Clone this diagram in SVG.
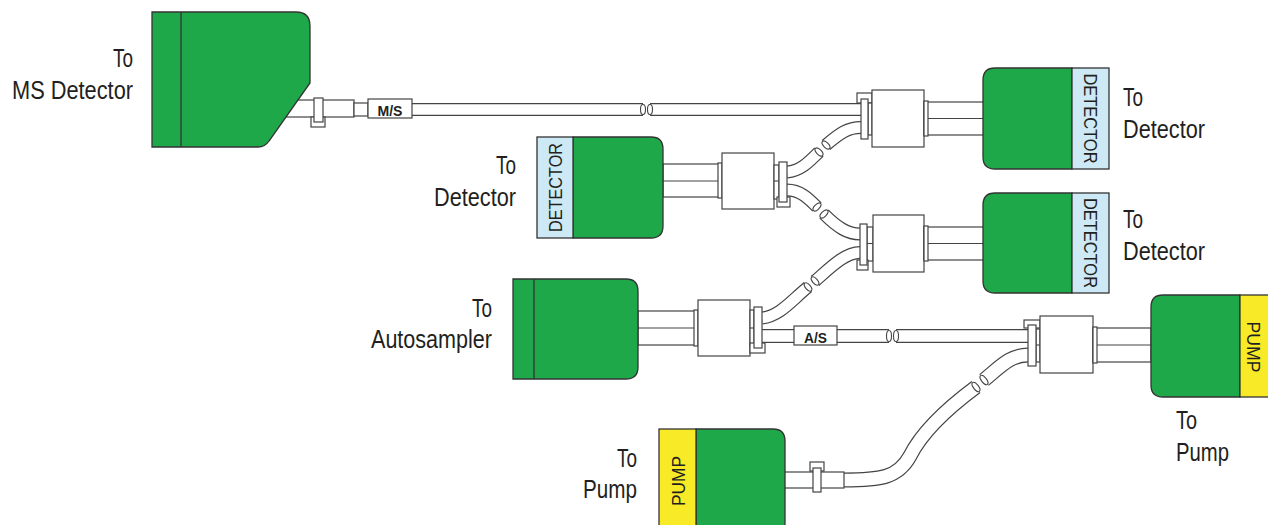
<svg xmlns="http://www.w3.org/2000/svg" width="1268" height="525" viewBox="0 0 1268 525">
<style>
.g{fill:#1fa84a;stroke:#333;stroke-width:1.3}
.b{fill:#cde9f5;stroke:#333;stroke-width:1.3}
.y{fill:#f8ea26;stroke:#333;stroke-width:1.3}
.f{fill:#fff;stroke:#444;stroke-width:1.2}
.to{fill:none;stroke:#444;stroke-width:13}
.ti{fill:none;stroke:#fff;stroke-width:10.6}
.to2{fill:none;stroke:#444;stroke-width:14}
.ti2{fill:none;stroke:#fff;stroke-width:11.6}
.to3{fill:none;stroke:#444;stroke-width:15}
.ti3{fill:none;stroke:#fff;stroke-width:12.6}
.ln{stroke:#444;stroke-width:1.1;fill:none}
.dl{stroke:#333;stroke-width:1.3;fill:none}
.e{fill:#fff;stroke:#444;stroke-width:1.1}
.lbl{font-family:"Liberation Sans",Arial,sans-serif;font-size:25.5px;fill:#231f20}
.tag{font-family:"Liberation Sans",Arial,sans-serif;font-size:18.5px;fill:#231f20}
.tb{font-family:"Liberation Sans",Arial,sans-serif;font-size:15.5px;font-weight:bold;fill:#231f20}
</style>
<defs>
<path id="pA1" d="M787,172 C800,171 808,163 819,152"/>
<path id="pA2" d="M826,145 C840,133 848,127.5 861,127.5"/>
<path id="pB1" d="M787,190 C800,190 808,198 817,207"/>
<path id="pB2" d="M824,214 C838,228 848,234 860,234"/>
<path id="pC1" d="M762,318 C780,316 792,300 808,287"/>
<path id="pC2" d="M815,281 C830,268 845,252.5 860,252.5"/>
<path id="pD1" d="M844,480 C880,480 898,478 910,456 C922,432 945,410 976,387"/>
<path id="pD2" d="M984,380 C1000,367 1010,355 1028,355"/>
<path id="pM1" d="M412,109.5 H643"/>
<path id="pM2" d="M650,109.5 H861"/>
<path id="pS0" d="M762,336 H794"/>
<path id="pS1" d="M837,336 H889"/>
<path id="pS2" d="M896,336 H1028"/>
</defs>
<g id="connectors">
  <!-- MS tubing -->
  <rect class="f" x="280" y="100" width="74" height="17"/>
  <rect class="f" x="311" y="117" width="14" height="10"/>
  <rect class="f" x="314" y="98" width="9" height="24"/>
  <rect class="f" x="354" y="103" width="14" height="13"/>
  <use href="#pM1" class="to"/><use href="#pM1" class="ti"/>
  <use href="#pM2" class="to"/><use href="#pM2" class="ti"/>
  <ellipse class="e" cx="643" cy="109.5" rx="2.5" ry="5"/>
  <ellipse class="e" cx="650" cy="109.5" rx="2.5" ry="5"/>
  <rect class="f" x="368" y="99" width="44" height="19"/>
  <text class="tb" x="390" y="115.5" text-anchor="middle" textLength="25" lengthAdjust="spacingAndGlyphs">M/S</text>

  <!-- curved tubes -->
  <use href="#pA1" class="to"/><use href="#pA1" class="ti"/>
  <use href="#pA2" class="to"/><use href="#pA2" class="ti"/>
  <ellipse class="e" cx="819" cy="152" rx="2.5" ry="5" transform="rotate(-45 819 152)"/>
  <ellipse class="e" cx="826" cy="145" rx="2.5" ry="5" transform="rotate(-45 826 145)"/>
  <use href="#pB1" class="to"/><use href="#pB1" class="ti"/>
  <use href="#pB2" class="to"/><use href="#pB2" class="ti"/>
  <ellipse class="e" cx="817" cy="207" rx="2.5" ry="5" transform="rotate(45 817 207)"/>
  <ellipse class="e" cx="824" cy="214" rx="2.5" ry="5" transform="rotate(45 824 214)"/>
  <use href="#pC1" class="to"/><use href="#pC1" class="ti"/>
  <use href="#pC2" class="to"/><use href="#pC2" class="ti"/>
  <ellipse class="e" cx="808" cy="287" rx="2.5" ry="5" transform="rotate(-40 808 287)"/>
  <ellipse class="e" cx="815" cy="281" rx="2.5" ry="5" transform="rotate(-40 815 281)"/>
  <use href="#pD1" class="to3"/><use href="#pD1" class="ti3"/>
  <use href="#pD2" class="to3"/><use href="#pD2" class="ti3"/>
  <ellipse class="e" cx="976" cy="387" rx="2.5" ry="5.5" transform="rotate(-38 976 387)"/>
  <ellipse class="e" cx="984" cy="380" rx="2.5" ry="5.5" transform="rotate(-38 984 380)"/>

  <!-- A/S tubing -->
  <use href="#pS0" class="to2"/><use href="#pS0" class="ti2"/>
  <use href="#pS1" class="to2"/><use href="#pS1" class="ti2"/>
  <use href="#pS2" class="to2"/><use href="#pS2" class="ti2"/>
  <ellipse class="e" cx="889" cy="336" rx="2.5" ry="5.5"/>
  <ellipse class="e" cx="896" cy="336" rx="2.5" ry="5.5"/>
  <rect class="f" x="794" y="326" width="43" height="19"/>
  <text class="tb" x="815.5" y="342.5" text-anchor="middle" textLength="23" lengthAdjust="spacingAndGlyphs">A/S</text>

  <!-- J1 top-right fitting -->
  <rect class="f" x="857" y="93" width="15" height="10"/>
  <rect class="f" x="868" y="103" width="4" height="32"/>
  <rect class="f" x="861" y="99" width="7" height="40"/>
  <rect class="f" x="872" y="90" width="52" height="57"/>
  <rect class="f" x="924" y="102" width="61" height="33"/>
  <line class="ln" x1="924" y1="118.5" x2="985" y2="118.5"/>
  <rect class="f" x="924" y="101" width="4" height="35"/>

  <!-- J2 left fitting -->
  <rect class="f" x="663" y="164" width="59" height="33"/>
  <line class="ln" x1="663" y1="181" x2="722" y2="181"/>
  <rect class="f" x="718" y="163" width="4" height="35"/>
  <rect class="f" x="722" y="153" width="52" height="56"/>
  <rect class="f" x="774" y="165" width="5" height="34"/>
  <line class="ln" x1="774" y1="181" x2="779" y2="181"/>
  <rect class="f" x="777" y="197" width="13" height="10"/>
  <rect class="f" x="779" y="162" width="8" height="40"/>

  <!-- J3 lower-right fitting -->
  <rect class="f" x="867" y="227" width="6" height="34"/>
  <line class="ln" x1="867" y1="243.5" x2="873" y2="243.5"/>
  <rect class="f" x="857" y="260" width="11" height="10"/>
  <rect class="f" x="860" y="224" width="7" height="41"/>
  <rect class="f" x="873" y="215" width="51" height="57"/>
  <rect class="f" x="924" y="227" width="61" height="33"/>
  <line class="ln" x1="924" y1="243.5" x2="985" y2="243.5"/>
  <rect class="f" x="924" y="226" width="4" height="35"/>

  <!-- J4 autosampler fitting -->
  <rect class="f" x="638" y="311" width="60" height="34"/>
  <line class="ln" x1="638" y1="328" x2="698" y2="328"/>
  <rect class="f" x="694" y="310" width="4" height="36"/>
  <rect class="f" x="698" y="300" width="52" height="56"/>
  <rect class="f" x="750" y="310" width="4" height="36"/>
  <line class="ln" x1="750" y1="328" x2="754" y2="328"/>
  <rect class="f" x="750" y="343" width="15" height="10"/>
  <rect class="f" x="754" y="307" width="8" height="41"/>

  <!-- J5 pump fitting -->
  <rect class="f" x="1024" y="320" width="16" height="8"/>
  <rect class="f" x="1036" y="329" width="4" height="33"/>
  <line class="ln" x1="1036" y1="345" x2="1040" y2="345"/>
  <rect class="f" x="1028" y="325" width="8" height="41"/>
  <rect class="f" x="1040" y="316" width="53" height="57"/>
  <rect class="f" x="1093" y="328" width="58" height="34"/>
  <line class="ln" x1="1093" y1="345" x2="1151" y2="345"/>
  <rect class="f" x="1093" y="327" width="4" height="36"/>

  <!-- bottom pump tubing -->
  <rect class="f" x="780" y="472" width="64" height="16"/>
  <rect class="f" x="810" y="462" width="14" height="9"/>
  <rect class="f" x="813" y="468" width="8" height="24"/>
</g>

<g id="ms-detector">
  <path class="g" d="M152,12 H296 Q310,12 310,26 V83 L269,141 Q265,147 258,147 H152 Z"/>
  <line class="dl" x1="181" y1="12" x2="181" y2="147"/>
  <text class="lbl" x="133" y="67" text-anchor="end" textLength="20" lengthAdjust="spacingAndGlyphs">To</text>
  <text class="lbl" x="133" y="99" text-anchor="end" textLength="121" lengthAdjust="spacingAndGlyphs">MS Detector</text>
</g>

<g id="detector-top-right">
  <path class="g" d="M1072,68 H995 Q983,68 983,80 V157 Q983,169 995,169 H1072 Z"/>
  <rect class="b" x="1072" y="68" width="37" height="101"/>
  <text class="tag" transform="translate(1090.5,118.5) rotate(90)" x="0" y="6.5" text-anchor="middle" textLength="90" lengthAdjust="spacingAndGlyphs">DETECTOR</text>
  <text class="lbl" x="1123" y="106" textLength="20" lengthAdjust="spacingAndGlyphs">To</text>
  <text class="lbl" x="1123" y="138" textLength="82" lengthAdjust="spacingAndGlyphs">Detector</text>
</g>

<g id="detector-mid-right">
  <path class="g" d="M1072,193 H995 Q983,193 983,205 V281 Q983,293 995,293 H1072 Z"/>
  <rect class="b" x="1072" y="193" width="37" height="100"/>
  <text class="tag" transform="translate(1090.5,243) rotate(90)" x="0" y="6.5" text-anchor="middle" textLength="90" lengthAdjust="spacingAndGlyphs">DETECTOR</text>
  <text class="lbl" x="1123" y="228" textLength="20" lengthAdjust="spacingAndGlyphs">To</text>
  <text class="lbl" x="1123" y="260" textLength="82" lengthAdjust="spacingAndGlyphs">Detector</text>
</g>

<g id="detector-left">
  <path class="g" d="M573,137 H651 Q663,137 663,149 V226 Q663,238 651,238 H573 Z"/>
  <rect class="b" x="537" y="137" width="36" height="101"/>
  <text class="tag" transform="translate(555,187.5) rotate(-90)" x="0" y="6.5" text-anchor="middle" textLength="89" lengthAdjust="spacingAndGlyphs">DETECTOR</text>
  <text class="lbl" x="516" y="174" text-anchor="end" textLength="20" lengthAdjust="spacingAndGlyphs">To</text>
  <text class="lbl" x="516" y="206" text-anchor="end" textLength="82" lengthAdjust="spacingAndGlyphs">Detector</text>
</g>

<g id="autosampler">
  <path class="g" d="M513,279 H626 Q638,279 638,291 V367 Q638,379 626,379 H513 Z"/>
  <line class="dl" x1="534" y1="279" x2="534" y2="379"/>
  <text class="lbl" x="492" y="317" text-anchor="end" textLength="20" lengthAdjust="spacingAndGlyphs">To</text>
  <text class="lbl" x="492" y="348" text-anchor="end" textLength="121" lengthAdjust="spacingAndGlyphs">Autosampler</text>
</g>

<g id="pump-right">
  <path class="g" d="M1240,295 H1163 Q1151,295 1151,307 V385 Q1151,397 1163,397 H1240 Z"/>
  <rect class="y" x="1240" y="295" width="40" height="102"/>
  <text class="tag" transform="translate(1254,347) rotate(90)" x="0" y="7" text-anchor="middle" font-size="19.5" textLength="51" lengthAdjust="spacingAndGlyphs">PUMP</text>
  <text class="lbl" x="1176" y="429" textLength="21" lengthAdjust="spacingAndGlyphs">To</text>
  <text class="lbl" x="1176" y="461" textLength="53" lengthAdjust="spacingAndGlyphs">Pump</text>
</g>

<g id="pump-bottom">
  <path class="g" d="M696,429 H773 Q785,429 785,441 V540 H696 Z"/>
  <rect class="y" x="659" y="429" width="37" height="111"/>
  <text class="tag" transform="translate(677.5,481) rotate(-90)" x="0" y="7" text-anchor="middle" font-size="19.5" textLength="50" lengthAdjust="spacingAndGlyphs">PUMP</text>
  <text class="lbl" x="637" y="467" text-anchor="end" textLength="20" lengthAdjust="spacingAndGlyphs">To</text>
  <text class="lbl" x="637" y="498" text-anchor="end" textLength="54" lengthAdjust="spacingAndGlyphs">Pump</text>
</g>
</svg>
